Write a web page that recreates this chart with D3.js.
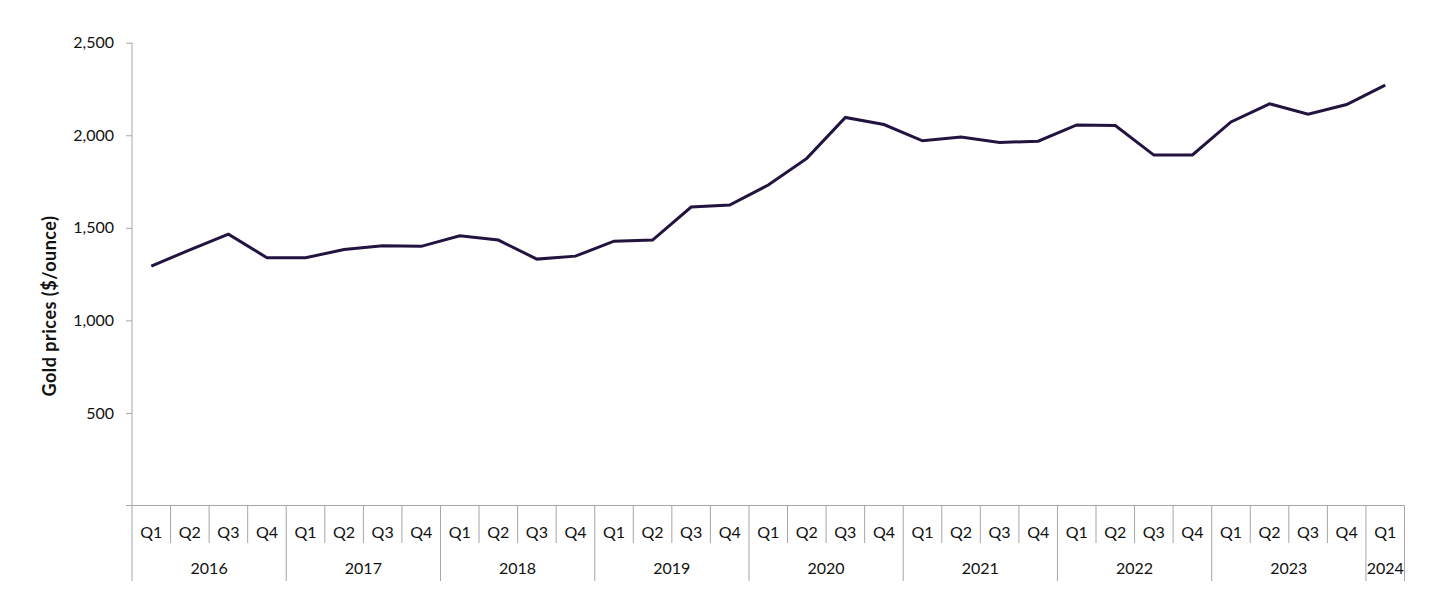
<!DOCTYPE html>
<html>
<head>
<meta charset="utf-8">
<script src="https://cdn.jsdelivr.net/npm/d3@7/dist/d3.min.js"></script>
<style>
  body { margin: 0; background: #fff; }
  text { font-family: Lato, "Open Sans", sans-serif; fill: #111; }
</style>
</head>
<body>
<svg id="chart" width="1440" height="615"></svg>
<script>
// quarter-end gold prices
var years = ["2016", "2017", "2018", "2019", "2020", "2021", "2022", "2023", "2024"];
var quartersPerYear = [4, 4, 4, 4, 4, 4, 4, 4, 1];
var prices = [
  1293, 1381, 1466, 1338,
  1338, 1383, 1403, 1400,
  1457, 1434, 1331, 1347,
  1428, 1434, 1612, 1623,
  1731, 1875, 2096, 2058,
  1970, 1990, 1961, 1968,
  2056, 2053, 1893, 1894,
  2072, 2170, 2114, 2166,
  2271
];
var yTicks = [500, 1000, 1500, 2000, 2500];

// build the period keys ("2016 Q1" ...)
var periods = [];
years.forEach(function(y, i) {
  for (var q = 1; q <= quartersPerYear[i]; q++) periods.push({year: y, q: "Q" + q, key: y + " Q" + q});
});

var svg = d3.select("#chart");
var plotL = 132, plotR = 1404.5, plotT = 42.7, plotB = 505.5;
var lineCol = "#a6a6a6";
var fs = "16px";

var x = d3.scaleBand().domain(periods.map(function(d) { return d.key; })).range([plotL, plotR]);
var y = d3.scaleLinear().domain([0, 2500]).range([plotB, plotT]);

// y axis
var yAxis = svg.append("g").attr("transform", "translate(" + plotL + ",0)")
  .call(d3.axisLeft(y).tickValues(yTicks).tickSize(6).tickPadding(12).tickFormat(d3.format(",")));
yAxis.selectAll("path.domain").remove();
yAxis.append("line").attr("x1", 0).attr("x2", 0).attr("y1", plotT).attr("y2", plotB)
  .attr("stroke", lineCol);
yAxis.selectAll(".tick line").attr("stroke", lineCol);
yAxis.selectAll(".tick text").style("font-size", fs).style("font-family", "Lato, sans-serif").attr("fill", "#111");

svg.append("text")
  .attr("transform", "translate(56,306) rotate(-90)")
  .attr("text-anchor", "middle")
  .style("font-size", "18px").style("font-weight", "bold").style("letter-spacing", "0.5px")
  .text("Gold prices ($/ounce)");

// x axis baseline + multi-level category labels
var xg = svg.append("g");
xg.append("line").attr("x1", plotL - 6).attr("x2", plotR).attr("y1", plotB).attr("y2", plotB)
  .attr("stroke", lineCol);

var qBottom = 543, yBottom = 581;
xg.selectAll("line.qdiv").data(periods).enter().append("line")
  .attr("class", "qdiv")
  .attr("x1", function(d) { return x(d.key); })
  .attr("x2", function(d) { return x(d.key); })
  .attr("y1", plotB)
  .attr("y2", function(d) { return d.q === "Q1" ? yBottom : qBottom; })
  .attr("stroke", lineCol);
xg.append("line").attr("x1", plotR).attr("x2", plotR).attr("y1", plotB).attr("y2", yBottom)
  .attr("stroke", lineCol);

xg.selectAll("text.q").data(periods).enter().append("text")
  .attr("class", "q")
  .attr("x", function(d) { return x(d.key) + x.bandwidth() / 2; })
  .attr("y", 532)
  .attr("dy", "0.35em")
  .attr("text-anchor", "middle")
  .style("font-size", fs)
  .text(function(d) { return d.q; });

xg.selectAll("text.yr").data(years).enter().append("text")
  .attr("class", "yr")
  .attr("x", function(d, i) {
    var first = x(d + " Q1");
    return first + x.bandwidth() * quartersPerYear[i] / 2;
  })
  .attr("y", 568)
  .attr("dy", "0.35em")
  .attr("text-anchor", "middle")
  .style("font-size", fs)
  .text(function(d) { return d; });

// price line
var line = d3.line()
  .x(function(d, i) { return x(periods[i].key) + x.bandwidth() / 2; })
  .y(function(d) { return y(d); });

svg.append("path").datum(prices)
  .attr("d", line)
  .attr("fill", "none")
  .attr("stroke", "#22133f")
  .attr("stroke-width", 3)
  .attr("stroke-linejoin", "miter");
</script>
</body>
</html>
